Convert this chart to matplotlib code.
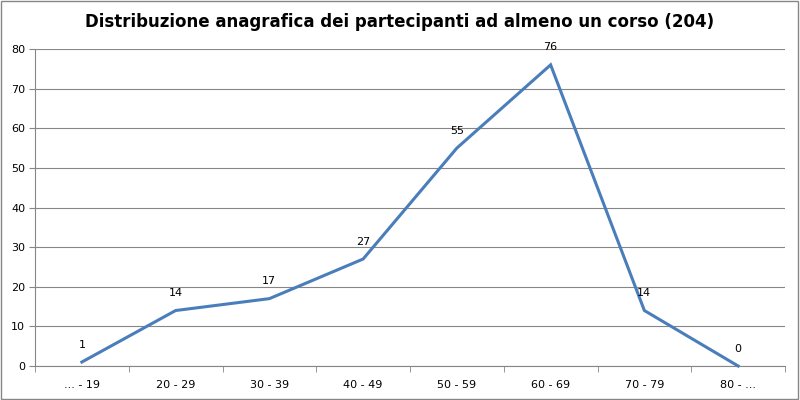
import matplotlib
matplotlib.use("Agg")
import matplotlib.pyplot as plt
from matplotlib.patches import Rectangle

# dati
fasce = ["... - 19", "20 - 29", "30 - 39", "40 - 49", "50 - 59", "60 - 69", "70 - 79", "80 - ..."]
partecipanti = [1, 14, 17, 27, 55, 76, 14, 0]
titolo = "Distribuzione anagrafica dei partecipanti ad almeno un corso (204)"

fig = plt.figure(figsize=(8, 4), dpi=100)
ax = fig.add_axes([35 / 800, 34 / 400, 750 / 800, 317 / 400])

x = list(range(len(fasce)))
ax.plot(x, partecipanti, color="#4a7ebb", linewidth=2.2, solid_joinstyle="miter", clip_on=False, zorder=3)

for xi, v in zip(x, partecipanti):
    ax.annotate(str(v), (xi, v), xytext=(0, 9), textcoords="offset points",
                ha="center", va="bottom", fontsize=8, color="black")

ax.set_xlim(-0.5, len(fasce) - 0.5)
ax.set_ylim(0, 80)
ax.set_yticks(range(0, 81, 10))
ax.set_xticks(x)
ax.set_xticklabels(fasce, fontsize=8)
ax.set_xticks([i - 0.5 for i in range(len(fasce) + 1)], minor=True)
ax.tick_params(axis="x", which="major", length=0, pad=10)
ax.tick_params(axis="x", which="minor", length=4, color="#868686", direction="out")
ax.tick_params(axis="y", labelsize=8, length=4, color="#868686", direction="out", pad=3)
ax.grid(axis="y", color="#868686", linewidth=0.8)
ax.set_axisbelow(True)
for s in ["top", "right"]:
    ax.spines[s].set_visible(False)
for s in ["left", "bottom"]:
    ax.spines[s].set_color("#868686")

fig.text(0.5, 1 - 22 / 400, titolo, ha="center", va="center", fontsize=12, fontweight="bold")

# bordo esterno
fig.patches.append(Rectangle((0.001, 0.002), 0.997, 0.996, transform=fig.transFigure,
                             fill=False, edgecolor="#868686", linewidth=1))

fig.savefig("out.png", dpi=100)
